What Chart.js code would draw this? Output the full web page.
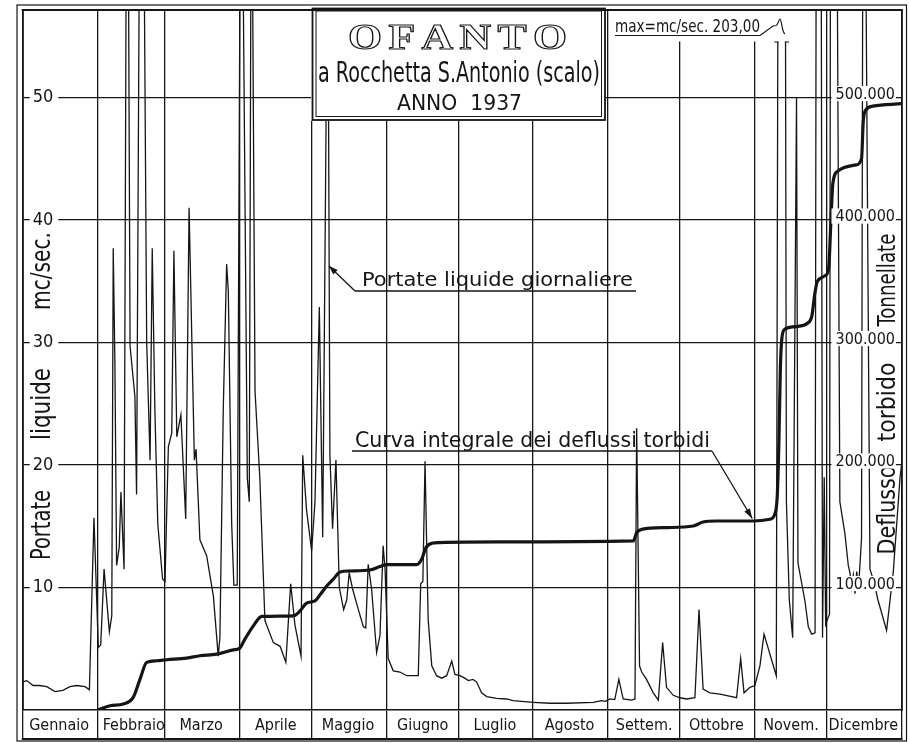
<!DOCTYPE html>
<html>
<head>
<meta charset="utf-8">
<title>Ofanto a Rocchetta S.Antonio (scalo) - Anno 1937</title>
<script src="https://cdn.jsdelivr.net/npm/chart.js@4.4.1/dist/chart.umd.min.js"></script>
<style>
html,body{margin:0;padding:0;background:#fff;}
#wrap{position:relative;width:910px;height:743px;}
canvas{display:block;}
</style>
</head>
<body>
<div id="wrap"><canvas id="c" width="910" height="743"></canvas></div>
<script>
// ---------------- DATA ----------------
const months = ['Gennaio','Febbraio','Marzo','Aprile','Maggio','Giugno','Luglio','Agosto','Settem.','Ottobre','Novem.','Dicembre'];
const monthStartDays = [0,31,59,90,120,151,181,212,243,273,304,334,365];
const leftTicks = [10,20,30,40,50];
const rightTicks = [100000,200000,300000,400000,500000];
const maxDischarge = 203; // mc/sec., noted on the chart

// Portate liquide giornaliere (mc/sec.) : day of year, value
const qDays = [0,1.7,4.3,7,10,13.4,16.7,19.6,22.5,25.9,27.7,29.6,31.4,32.4,33.8,36.0,37.0,37.6,38.3,39.0,40.1,40.8,42.1,43.4,44.6,46.6,47.3,49.3,51.5,52.9,53.8,54.9,56.1,58.1,59.1,60.5,61.9,62.8,64.0,65.7,67.7,69.1,71.3,72.0,73.6,76.4,79.2,81.2,81.9,83.3,84.7,85.4,86.8,87.7,89.1,90.7,93.3,94.1,95.0,96.5,98.5,100.6,104.1,106.9,109.3,111.3,113.1,115.6,116.3,117.9,120.0,121.4,123.2,124.6,126.0,126.5,127.6,128.7,130.1,131.5,133.3,134.6,135.6,137.0,139.4,141.5,142.5,143.5,144.9,147.0,148.4,149.7,150.5,151.8,153.9,156.7,159.5,164.3,165.3,166.2,167.1,168.4,169.9,171.9,174.0,176.1,178.2,179.5,181.6,183.6,185.1,187.0,188.5,190.6,192.7,196.8,201.0,203.7,212.0,219.0,225.9,237.0,240.4,242.0,243.9,245.9,247.6,249.4,252.9,254.3,255.0,256.2,257.1,259.1,261.9,264.0,265.8,267.4,270.2,273.0,275.7,279.2,280.9,282.6,285.4,289.6,292.0,296.5,298.2,299.6,302.1,304.1,306.2,307.9,313.0,315.4,317.2,318.4,319.8,321.4,322.0,324.9,326.3,327.7,329.1,330.5,332.2,332.9,333.5,334.6,335.1,336.1,339.4,341.5,342.9,343.6,344.3,345.0,345.7,346.4,347.1,348.4,349.2,351.9,353.5,355.2,358.8,361.6,364.4,365];
const qValues = [2.3,2.4,2.0,2.0,1.9,1.5,1.6,1.9,2.0,1.9,1.65,15.7,5.1,5.3,11.5,6.4,7.7,37.7,28.2,11.8,13.3,17.8,11.5,85,29.7,25.6,17.6,95,30,20.4,37.7,24.5,15.2,10.7,10.5,21.5,22.6,37.5,22.3,24.1,15.6,41.0,20.4,21.3,13.9,12.6,9.3,4.4,5.9,24.5,36.4,34.2,15.2,10.2,10.2,80,18.9,17.0,75,26,18.9,7.3,5.5,5.2,3.9,10.3,6.9,4.4,20.8,16.3,13.0,17.0,32.9,14.1,47.9,75,20.8,14.8,20.4,10.0,8.2,9.0,11.2,9.9,8.2,6.8,6.7,11.9,9.9,4.7,6.1,13.4,11.5,4.2,3.2,3.1,2.8,2.8,10.3,10.5,20.3,7.4,3.6,2.8,2.6,2.8,4.0,2.9,2.8,2.6,2.4,2.5,2.3,1.4,1.1,0.95,0.9,0.76,0.63,0.55,0.55,0.63,0.76,0.7,0.9,0.85,2.5,0.9,0.8,0.9,23,3.6,3.1,2.5,1.4,0.8,5.5,1.85,1.2,1.0,0.9,1.0,8.2,1.7,1.4,1.3,1.2,1.0,4.2,1.4,1.85,2.0,3.6,6.2,2.8,203,17,9,5.9,50,12,8.9,6.8,6.2,6.3,180,5.9,19,7.0,7.6,7.8,150,17,14.4,11.8,11.2,10.0,11.0,9.5,11.3,9.8,14,90,11.5,10.5,9.0,6.5,11.3,19,20];

// Curva integrale dei deflussi torbidi (tonnellate) : day of year, cumulated value
const tDays = [31.0,36.3,41.8,45.9,48.7,51.5,55.6,59.8,68.1,73.6,80.6,87.5,90.0,92.3,95.8,99.3,112.4,115.2,117.9,121.4,123.5,126.2,129.0,131.8,135.9,144.2,148.4,151.2,163.6,165.7,167.5,169.9,173.3,198.2,253.6,255.0,257.1,267.4,278.5,282.6,288.2,303.4,310.3,312.4,313.4,314.1,314.7,315.4,316.6,320.8,326.1,327.8,329.0,330.1,333.6,334.8,335.7,336.5,338.6,346.1,348.4,349.1,350.2,353.1,365];
const tValues = [0,3500,4900,10300,25000,38900,40200,41000,42400,44300,45600,49100,50300,57900,68700,76400,76900,80900,87200,89100,94000,101000,106800,112700,113500,114300,117100,118700,118700,123000,132600,136100,136700,137200,138000,144800,147500,148900,150200,153500,154300,154300,155700,160000,175000,220000,280000,305000,311000,313000,316000,322000,340000,350000,355000,362000,400000,430000,440000,445000,450000,480000,490000,493000,495000];

// ---------------- STYLE ----------------
const INK = '#151515';
const SANS = "'DejaVu Sans Condensed','Liberation Sans Narrow','Roboto Condensed',Roboto,'Liberation Sans',sans-serif";
const SERIF = "'Liberation Serif','DejaVu Serif',serif";

function fitText(c, txt, left, base, width, font) {
  c.save(); c.font = font; c.textAlign = 'left'; c.textBaseline = 'alphabetic';
  const w = c.measureText(txt).width;
  c.translate(left, base); c.scale(width / w, 1); c.fillText(txt, 0, 0); c.restore();
}
function fitTextV(c, txt, baseX, centerY, len, font) {
  c.save(); c.font = font; c.textAlign = 'center'; c.textBaseline = 'alphabetic';
  const w = c.measureText(txt).width;
  c.translate(baseX, centerY); c.rotate(-Math.PI / 2); c.scale(len / w, 1); c.fillText(txt, 0, 0); c.restore();
}
function arrowLine(c, x0, y0, x1, y1, hl, hw) {
  c.beginPath(); c.moveTo(x0, y0); c.lineTo(x1, y1); c.stroke();
  const dx = x1 - x0, dy = y1 - y0, L = Math.hypot(dx, dy), ux = dx / L, uy = dy / L;
  c.beginPath(); c.moveTo(x1, y1);
  c.lineTo(x1 - ux * hl - uy * hw, y1 - uy * hl + ux * hw);
  c.lineTo(x1 - ux * hl + uy * hw, y1 - uy * hl - ux * hw);
  c.closePath(); c.fill();
}
function noPad(s) { s.paddingTop = 0; s.paddingBottom = 0; s.paddingLeft = 0; s.paddingRight = 0; }

const decor = {
  id: 'decor',
  afterDatasetsDraw(chart) {
    const c = chart.ctx;
    const X = chart.scales.x, Y = chart.scales.y, Y2 = chart.scales.y2;
    c.save();
    c.strokeStyle = INK; c.fillStyle = INK; c.lineCap = 'butt';

    // ---- title box ----
    c.fillStyle = '#fff'; c.fillRect(311, 8, 295, 113);
    c.fillStyle = INK;
    c.lineWidth = 1.8; c.strokeRect(312.5, 8.5, 292.5, 111.5);
    c.lineWidth = 1; c.strokeRect(316, 11, 285.5, 105.5);
    // OFANTO outlined, extended letters
    const word = 'OFANTO';
    c.font = 'bold 35px ' + SERIF;
    const sx = 1.25;
    const widths = [...word].map(ch => c.measureText(ch).width * sx);
    const totalW = widths.reduce((s, v) => s + v, 0);
    const gap = (219 - totalW) / (word.length - 1);
    let px = 348;
    c.lineWidth = 1.1; c.textBaseline = 'alphabetic'; c.textAlign = 'left';
    [...word].forEach((ch, i) => {
      c.save(); c.translate(px, 48.5); c.scale(sx, 1); c.strokeText(ch, 0, 0); c.restore();
      px += widths[i] + gap;
    });
    fitText(c, 'a Rocchetta S.Antonio (scalo)', 318, 81.5, 282, '400 28px ' + SANS);
    fitText(c, 'ANNO  1937', 397, 110, 125, '400 21px ' + SANS);

    // ---- max note ----
    c.fillStyle = '#fff'; c.fillRect(611, 9, 181, 32.5);
    c.fillStyle = INK;
    fitText(c, 'max=mc/sec. ' + maxDischarge.toFixed(2).replace('.', ','), 615, 31.5, 145, '400 17px ' + SANS);
    c.lineWidth = 1.2;
    c.beginPath(); c.moveTo(615, 35.5); c.lineTo(760, 35.5); c.lineTo(773, 26); c.lineTo(776, 25.5);
    c.bezierCurveTo(778, 25, 779, 19, 780, 19); c.bezierCurveTo(781.5, 19, 782, 33, 785, 34); c.stroke();
    // brackets on the broken max spike
    const iMax = qValues.indexOf(maxDischarge);
    const vCut = Y.getValueForPixel(42);
    const cross = (i0, i1) => qDays[i0] + (vCut - qValues[i0]) / (qValues[i1] - qValues[i0]) * (qDays[i1] - qDays[i0]);
    const xa = X.getPixelForValue(cross(iMax - 1, iMax));
    const xd = X.getPixelForValue(cross(iMax, iMax + 1));
    c.beginPath(); c.moveTo(xa - 3.5, 42); c.lineTo(xa + 0.6, 42); c.moveTo(xd - 0.6, 42); c.lineTo(xd + 3.5, 42); c.stroke();

    // ---- annotation: Portate liquide giornaliere ----
    fitText(c, 'Portate liquide giornaliere', 362, 286, 271, '400 20px ' + SANS);
    c.lineWidth = 1.3;
    c.beginPath(); c.moveTo(355, 291); c.lineTo(636, 291); c.stroke();
    arrowLine(c, 355, 291, 329, 266, 9, 3.2);

    // ---- annotation: Curva integrale dei deflussi torbidi ----
    fitText(c, 'Curva integrale dei deflussi torbidi', 355, 447, 355, '400 21px ' + SANS);
    c.beginPath(); c.moveTo(352, 451); c.lineTo(712, 451); c.stroke();
    const tipX = X.getPixelForValue(303), tipY = Y2.getPixelForValue(154300) - 2.5;
    arrowLine(c, 712, 451, tipX, tipY, 10, 3.2);

    // ---- axis titles ----
    const fl = '400 26px ' + SANS;
    fitTextV(c, 'Portate', 50, 525, 70, fl);
    fitTextV(c, 'liquide', 50, 404, 72, fl);
    fitTextV(c, 'mc/sec.', 50, 271, 78, fl);
    const fr = '400 25px ' + SANS;
    fitTextV(c, 'Deflusso', 895, 510, 89, fr);
    fitTextV(c, 'torbido', 895, 402, 79, fr);
    fitTextV(c, 'Tonnellate', 895, 280, 93, fr);
    c.restore();
  },
  afterDraw(chart) {
    const c = chart.ctx, a = chart.chartArea;
    c.save(); c.strokeStyle = INK;
    c.lineWidth = 1.8;
    c.beginPath(); c.moveTo(a.left - 1, a.top); c.lineTo(a.right + 1, a.top);
    c.moveTo(a.left - 1, a.bottom + 29); c.lineTo(a.right + 1, a.bottom + 29); c.stroke();
    c.lineWidth = 1.2;
    c.strokeRect(17, 5, 889.5, 736);
    c.restore();
  }
};

Chart.defaults.font.family = SANS;
Chart.defaults.color = INK;

new Chart(document.getElementById('c').getContext('2d'), {
  type: 'line',
  data: {
    datasets: [
      {
        label: 'Curva integrale dei deflussi torbidi',
        data: tDays.map((d, i) => ({x: d, y: tValues[i]})),
        yAxisID: 'y2', borderColor: INK, borderWidth: 3.2, pointRadius: 0,
        cubicInterpolationMode: 'monotone', fill: false, order: 0
      },
      {
        label: 'Portate liquide giornaliere',
        data: qDays.map((d, i) => ({x: d, y: qValues[i]})),
        yAxisID: 'y', borderColor: INK, borderWidth: 1.3, pointRadius: 0,
        tension: 0, fill: false, order: 1
      }
    ]
  },
  options: {
    responsive: false, animation: false, devicePixelRatio: 1,
    layout: { autoPadding: false, padding: { left: 22.7, right: 8.5, top: 10, bottom: 4 } },
    plugins: { legend: { display: false }, tooltip: { enabled: false }, title: { display: false } },
    scales: {
      x: {
        type: 'linear', min: 0, max: 365,
        afterBuildTicks: s => { s.ticks = monthStartDays.map(v => ({value: v})); },
        afterFit: s => { s.height = 29; noPad(s); },
        ticks: {
          autoSkip: false, maxRotation: 0, minRotation: 0, labelOffset: 36.4, padding: -22.5,
          color: INK, font: { family: SANS, size: 16 },
          callback: (v, i) => months[i] || ''
        },
        grid: { color: INK, lineWidth: 1.3, tickLength: 29, drawTicks: true },
        border: { display: true, color: INK, width: 1.6 }
      },
      y: {
        position: 'left', min: 0, max: 57.15,
        afterBuildTicks: s => { s.ticks = leftTicks.map(v => ({value: v})); },
        afterFit: s => { s.width = 0; noPad(s); },
        ticks: {
          mirror: true, padding: 10, z: 1, color: INK, font: { family: SANS, size: 18 },
          showLabelBackdrop: true, backdropColor: '#fff',
          backdropPadding: { left: 3, right: 5, top: 0, bottom: 0 },
          callback: v => String(v)
        },
        grid: { color: INK, lineWidth: 1.3, drawTicks: false },
        border: { display: true, color: INK, width: 1.8 }
      },
      y2: {
        position: 'right', min: 0, max: 571500,
        afterBuildTicks: s => { s.ticks = rightTicks.map(v => ({value: v})); },
        afterFit: s => { s.width = 0; noPad(s); },
        ticks: {
          mirror: true, padding: -6.5, labelOffset: -3, z: 1, color: INK, font: { family: SANS, size: 16 },
          showLabelBackdrop: true, backdropColor: '#fff',
          backdropPadding: { left: 4, right: 1, top: -1, bottom: -3 },
          callback: v => (v / 1000) + '.000'
        },
        grid: { display: false, drawTicks: false },
        border: { display: true, color: INK, width: 1.8 }
      }
    }
  },
  plugins: [decor]
});
</script>
</body>
</html>
